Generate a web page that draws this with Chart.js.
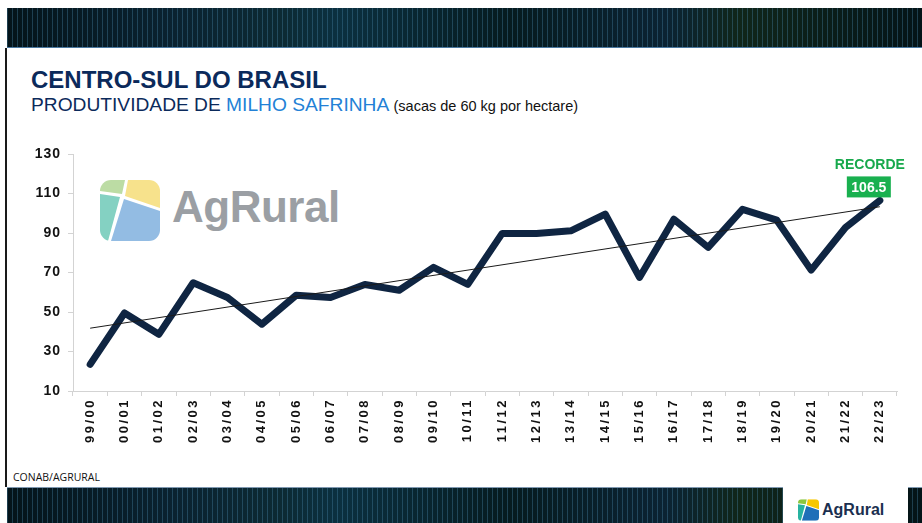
<!DOCTYPE html>
<html>
<head>
<meta charset="utf-8">
<script src="https://cdn.jsdelivr.net/npm/chart.js@4/dist/chart.umd.min.js"></script>
<style>
html,body{margin:0;padding:0;width:922px;height:523px;overflow:hidden;background:#fff;}
#wrap{position:relative;width:922px;height:523px;font-family:"Liberation Sans",Arial,sans-serif;}
.band{position:absolute;left:7px;right:0;
  background:
   repeating-linear-gradient(90deg, rgba(70,130,165,0.38) 0px, rgba(70,130,165,0.38) 1px, transparent 1px, transparent 5px),
   linear-gradient(90deg,#04141a 0%,#0a2230 18%,#0c2a33 30%,#0b3040 36%,#061b1f 55%,#0b2333 72%,#10261a 80%,#041418 100%);}
#topband{top:8px;height:39px;border-bottom:1px solid #4a78a0;}
#botband{top:487px;height:36px;border-top:1px solid #7f98b0;}
#leftline{position:absolute;left:5px;top:48px;width:2px;height:439px;background:#1a1a1a;}
#logobox{position:absolute;left:783px;top:487px;width:125px;height:36px;background:#fff;}
.t{position:absolute;white-space:nowrap;line-height:1;}
#title{left:31px;top:68px;font-size:24px;font-weight:bold;color:#0b2a5b;}
#sub{left:31px;top:95px;font-size:19.2px;color:#0b2a5b;}
#sub .blue{color:#2381d6;}
#sub .small{font-size:14.5px;color:#111;}
#source{left:13px;top:472px;font-size:10.5px;color:#111;font-family:"Open Sans","Liberation Sans",sans-serif;}
#wm{position:absolute;left:100px;top:180px;}
#wmtext{left:172px;top:185px;font-size:44px;font-weight:bold;color:#9b9fa4;letter-spacing:-0.5px;}
#botlogo{position:absolute;left:798px;top:499px;}
#bottext{left:822px;top:502px;font-size:16px;font-weight:bold;color:#1b2f4f;}
canvas{position:absolute;left:0;top:0;}
</style>
</head>
<body>
<div id="wrap">
  <div class="band" id="topband"></div>
  <div id="leftline"></div>
  <div class="t" id="title">CENTRO-SUL DO BRASIL</div>
  <div class="t" id="sub">PRODUTIVIDADE DE <span class="blue">MILHO SAFRINHA</span> <span class="small">(sacas de 60 kg por hectare)</span></div>
  <svg id="wm" width="61" height="62" viewBox="0 0 61 62">
    <defs><clipPath id="rc"><rect x="0" y="0" width="60" height="61" rx="11" ry="11"/></clipPath></defs>
    <g clip-path="url(#rc)">
      <polygon points="0,0 25,0 22,14 0,11" fill="#bcdca4"/>
      <polygon points="28,0 60,0 60,28 25,16" fill="#f7e28c"/>
      <polygon points="0,14 20,17 8,61 0,61" fill="#84d1c2"/>
      <polygon points="24,19 60,31 60,61 11,61" fill="#93bce3"/>
    </g>
  </svg>
  <div class="t" id="wmtext">AgRural</div>
  <div class="t" id="source">CONAB/AGRURAL</div>
  <div class="band" id="botband"></div>
  <div id="logobox"></div>
  <svg id="botlogo" width="21" height="22" viewBox="0 0 60 61">
    <defs><clipPath id="rc2"><rect x="0" y="0" width="60" height="61" rx="10" ry="10"/></clipPath></defs>
    <g clip-path="url(#rc2)">
      <polygon points="0,0 25,0 22,14 0,11" fill="#8cc63f"/>
      <polygon points="28,0 60,0 60,28 25,16" fill="#f6c700"/>
      <polygon points="0,14 20,17 8,61 0,61" fill="#27b3a0"/>
      <polygon points="24,19 60,31 60,61 11,61" fill="#1f6fb8"/>
    </g>
  </svg>
  <div class="t" id="bottext">AgRural</div>
  <canvas id="c" width="922" height="523"></canvas>
</div>
<script>
// ---- data ----
const categories = ['99/00','00/01','01/02','02/03','03/04','04/05','05/06','06/07','07/08','08/09','09/10','10/11',
                    '11/12','12/13','13/14','14/15','15/16','16/17','17/18','18/19','19/20','20/21','21/22','22/23'];
const productivity = [23.5,49.5,38.7,64.8,57.3,43.8,58.5,57.3,63.9,61.0,72.6,64.0,
                      89.8,89.8,91.1,99.6,67.5,97.0,82.7,102.0,96.5,71.2,92.8,106.5];
const trendEnds = [41.8, 103.3];           // trend line values at first and last season
const yTickValues = [10,30,50,70,90,110,130];
const recordText = 'RECORDE';

const FONT = '"Liberation Sans", Arial, sans-serif';

function spaced(scale, px){
  if (scale._spacedPatched) return;
  const orig = scale.drawLabels;
  scale.drawLabels = function(area){
    const ctx = this.ctx;
    ctx.save();
    ctx.letterSpacing = px;
    orig.call(this, area);
    ctx.restore();
  };
  scale._spacedPatched = true;
}

const spacingPlugin = {
  id:'spacing',
  afterLayout(chart){
    spaced(chart.scales.x, '2.5px');
    spaced(chart.scales.y, '1px');
  }
};

const recordPlugin = {
  id:'record',
  afterDatasetsDraw(chart){
    const {ctx, scales:{x, y}} = chart;
    const i = productivity.length - 1;
    const px = x.getPixelForValue(i), py = y.getPixelForValue(productivity[i]);
    const cx = px - 11, bw = 44, bh = 21, by = py - 3 - bh;
    ctx.save();
    ctx.fillStyle = '#19b04f';
    ctx.fillRect(cx - bw/2, by, bw, bh);
    ctx.fillStyle = '#ffffff';
    ctx.font = 'bold 14px ' + FONT;
    ctx.textAlign = 'center';
    ctx.textBaseline = 'middle';
    ctx.fillText(productivity[i].toFixed(1), cx, by + bh/2 + 1);
    ctx.fillStyle = '#17a94c';
    ctx.textBaseline = 'alphabetic';
    ctx.fillText(recordText, cx + 1, by - 7);
    ctx.restore();
  }
};

new Chart(document.getElementById('c'), {
  type: 'line',
  data: {
    labels: categories,
    datasets: [
      {
        label: 'Tendência',
        data: [{x: categories[0], y: trendEnds[0]}, {x: categories[categories.length-1], y: trendEnds[1]}],
        borderColor: '#1a1a1a',
        borderWidth: 1,
        pointRadius: 0,
        tension: 0,
        fill: false
      },
      {
        label: 'Produtividade',
        data: productivity,
        borderColor: '#0f2542',
        borderWidth: 7,
        pointRadius: 0,
        tension: 0,
        borderJoinStyle: 'round',
        borderCapStyle: 'round',
        fill: false
      }
    ]
  },
  options: {
    responsive: false,
    animation: false,
    devicePixelRatio: 1,
    layout: { padding: { left: 0, top: 154, right: 25, bottom: 72 } },
    plugins: { legend: { display: false }, tooltip: { enabled: false } },
    scales: {
      x: {
        type: 'category',
        offset: true,
        grid: { display: true, drawOnChartArea: false, offset: true, tickLength: 5, color: '#d3d3d3' },
        border: { color: '#d3d3d3', width: 1 },
        ticks: { autoSkip: false, maxRotation: 90, minRotation: 90, padding: 2, color: '#111',
                 font: { family: FONT, size: 13, weight: 'bold' } },
        afterFit(s){ s.height = 60; }
      },
      y: {
        min: 10, max: 130,
        afterBuildTicks(s){ s.ticks = yTickValues.map(v => ({value: v})); },
        grid: { drawOnChartArea: false, tickLength: 5, color: '#d3d3d3' },
        border: { color: '#d3d3d3', width: 1 },
        ticks: { padding: 7, color: '#111', font: { family: FONT, size: 14, weight: 'bold' } },
        afterFit(s){ s.width = 73; }
      }
    }
  },
  plugins: [spacingPlugin, recordPlugin]
});
</script>
</body>
</html>
